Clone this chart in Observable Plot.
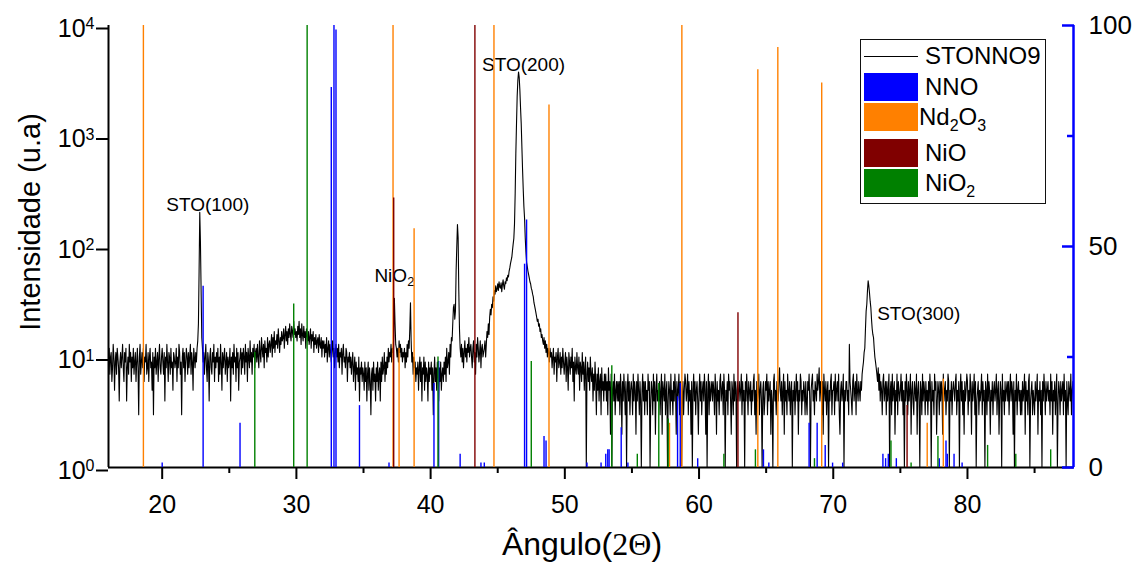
<!DOCTYPE html>
<html>
<head>
<meta charset="utf-8">
<script src="https://cdn.jsdelivr.net/npm/d3@7"></script>
<script src="https://cdn.jsdelivr.net/npm/@observablehq/plot@0.6"></script>
<style>
  body { margin: 0; background: #fff; font-family: "Liberation Sans", Arial, sans-serif; }
  #wrap { position: relative; width: 1137px; height: 563px; overflow: hidden; }
  #wrap svg { position: absolute; left: 0; top: 0; }
  #legend { position: absolute; left: 860px; top: 39px; width: 186px; height: 165px; box-sizing: border-box;
            border: 1.5px solid #111; background: #fff; font-size: 24px; line-height: 24px; color: #000; }
  #legend .sw { position: absolute; left: 3px; width: 54px; height: 28px; }
  #legend .ln { position: absolute; left: 3px; width: 54px; height: 0; border-top: 1.2px solid #000; }
  #legend .tx { position: absolute; left: 64px; white-space: nowrap; }
  #legend sub { font-size: 16px; vertical-align: -6px; line-height: 0; }
</style>
</head>
<body>
<div id="wrap"><div id="legend"></div></div>
<script>
// ---------- data ----------
const angleStart = 16.0;   // 2θ of first sample
const angleStep = 0.05;    // scan step
// STONNO9 measured counts, one row per degree (20 samples per degree)
const intensity = [
  9,12,7,10,11,6,8,13,10,5, 9,11,7,12,10,8,4,9,11,8,                 // 16
  10,13,8,6,11,9,12,4,8,10, 7,13,9,11,6,10,8,12,7,9,                 // 17
  11,6,9,12,8,3,10,13,7,9, 11,8,12,6,10,9,13,7,8,11,                 // 18
  6,10,12,8,9,5,11,3,10,8, 12,7,9,11,6,10,13,8,7,10,                 // 19
  12,9,7,11,4,10,8,13,9,6, 11,10,7,12,8,9,5,11,10,8,                 // 20
  9,12,6,10,8,13,11,7,9,3, 10,12,8,11,6,9,12,10,7,11,                // 21
  8,10,13,7,11,9,5,12,10,8, 11,9,12,14,20,60,204,110,40,15,          // 22
  12,9,11,7,10,13,8,6,11,9, 4,10,12,8,7,11,9,13,6,10,                // 23
  8,11,9,12,6,10,7,13,9,5, 11,8,10,12,7,9,11,6,10,8,                 // 24
  9,12,4,10,8,11,7,13,9,10, 6,12,8,11,5,9,10,12,7,11,                // 25
  8,12,10,7,13,9,11,6,12,10, 8,14,9,11,7,12,10,13,8,11,              // 26
  12,9,13,10,8,14,11,9,15,12, 10,13,8,14,11,12,9,15,10,13,           // 27
  14,11,13,16,10,15,12,17,11,14, 13,16,12,18,14,11,15,13,17,14,      // 28
  15,18,12,16,19,14,17,13,18,15, 20,16,14,19,17,15,21,16,18,15,      // 29
  17,14,19,16,21,15,18,13,20,16, 14,19,15,17,12,18,16,14,17,13,      // 30
  15,18,12,16,14,17,11,15,13,16, 12,14,15,11,16,13,12,15,10,14,      // 31
  12,14,10,13,11,15,9,12,14,10, 13,11,9,12,14,10,12,8,11,13,         // 32
  10,12,9,13,8,11,10,12,7,11, 13,9,10,8,12,11,6,10,9,11,             // 33
  8,10,7,9,11,6,8,10,5,9, 7,8,6,10,4,8,7,9,6,8,                      // 34
  7,5,9,6,8,4,7,9,5,8, 6,3,7,8,5,9,6,7,4,8,                          // 35
  6,9,5,7,8,4,9,6,10,7, 8,11,6,9,7,10,8,12,9,11,                     // 36
  10,13,9,12,11,15,34,20,13,12, 10,12,9,14,11,13,10,12,9,11,         // 37
  10,12,8,11,9,13,10,14,12,18, 31,14,9,11,7,10,8,9,6,8,              // 38
  7,9,5,8,10,6,9,4,8,7, 10,5,9,6,8,7,4,9,6,8,                        // 39
  7,9,5,8,3,7,10,6,8,5, 9,7,4,8,6,9,5,7,8,6,                         // 40
  9,7,10,6,12,8,9,11,7,13, 10,15,14,20,28,30,22,26,60,100,           // 41
  158,120,40,18,12,10,13,9,12,8, 11,14,10,12,9,13,11,15,10,12,       // 42
  13,10,8,12,14,9,11,7,13,10, 15,12,9,11,14,8,12,13,10,11,           // 43
  12,14,10,13,17,15,20,16,23,27, 24,30,28,35,32,40,37,44,39,41,      // 44
  46,40,48,43,42,47,39,45,50,44, 41,48,46,52,49,55,53,60,64,70,      // 45
  75,80,92,105,118,160,300,700,1300,2300, 3200,3800,3400,2600,1800,1300,800,500,330,230, // 46
  180,120,90,72,66,60,56,52,48,46, 42,40,37,35,31,29,27,25,23,21,    // 47
  22,19,20,17,18,15,16,14,13,15, 12,14,11,13,10,12,11,9,12,10,       // 48
  11,8,10,12,7,10,9,11,6,10, 12,8,9,11,7,10,8,12,9,7,                // 49
  9,11,6,10,8,5,11,9,7,10, 8,12,6,9,4,10,8,7,11,8,                   // 50
  7,10,5,9,8,6,11,7,9,5, 8,10,1,7,9,6,8,5,10,7,                      // 51
  6,8,4,7,5,9,6,3,7,5, 8,4,6,7,3,8,5,6,4,7,                          // 52
  5,7,4,6,3,8,5,6,2,7, 1,5,6,4,7,3,5,6,4,6,                          // 53
  4,6,3,7,5,2,6,4,7,5, 3,6,1,5,7,4,6,3,5,6,                          // 54
  5,3,7,4,6,5,2,6,4,7, 5,3,6,4,1,5,7,4,6,3,                          // 55
  6,4,5,3,7,5,6,1,4,6, 5,3,7,4,6,2,5,7,4,5,                          // 56
  4,6,3,5,7,2,6,5,4,7, 3,5,6,1,4,6,5,3,7,4,                          // 57
  5,3,6,4,7,5,2,6,4,5, 7,3,6,5,1,4,6,3,5,7,                          // 58
  6,4,5,7,3,6,4,5,2,6, 1,5,7,4,6,3,5,6,4,2,                          // 59
  5,7,4,6,3,5,6,4,7,5, 2,6,1,5,7,3,6,4,5,6,                          // 60
  4,6,5,3,7,5,2,6,4,5, 3,6,7,4,5,6,3,7,5,1,                          // 61
  5,4,6,3,7,5,6,4,2,6, 5,3,7,4,6,5,1,6,4,5,                          // 62
  6,4,5,7,3,6,4,5,1,6, 4,7,5,3,6,5,4,6,3,5,                          // 63
  4,6,7,3,5,2,6,4,5,7, 3,5,6,4,1,5,6,3,4,6,                          // 64
  5,7,3,6,4,5,6,2,5,4, 1,6,7,4,5,3,6,5,4,6,                          // 65
  8,5,4,6,3,5,7,2,6,4, 5,3,7,5,4,6,3,5,6,1,                          // 66
  5,4,6,3,5,7,4,6,2,5, 4,7,6,3,5,4,6,5,3,6,                          // 67
  4,3,6,5,7,4,1,5,6,7, 4,5,3,6,5,4,7,5,6,8,                          // 68
  4,6,5,3,6,2,7,5,4,6, 3,5,6,1,5,4,6,7,3,5,                          // 69
  5,6,3,7,4,5,6,4,7,3, 2,5,6,4,5,7,1,5,4,6,                          // 70
  6,4,5,3,13,6,5,4,3,6, 7,4,5,6,3,7,5,4,6,5,                         // 71
  4,6,5,7,8,9,11,12,18,26, 30,40,49,44,38,32,28,22,18,16,            // 72
  15,12,10,9,8,7,6,8,5,7, 4,6,5,3,6,7,4,5,6,3,                       // 73
  6,4,5,7,1,5,6,3,7,4, 5,6,2,5,4,7,3,6,5,4,                          // 74
  5,7,4,6,3,5,1,6,4,7, 5,3,6,4,5,7,2,5,6,4,                          // 75
  3,6,5,4,7,2,5,6,4,1, 6,5,3,7,4,6,5,3,6,4,                          // 76
  5,3,6,4,7,5,1,6,4,5, 3,7,5,6,2,4,6,5,3,6,                          // 77
  4,6,5,2,7,4,5,6,3,5, 4,7,6,1,5,4,6,3,5,6,                          // 78
  5,4,6,7,3,5,4,6,1,5, 7,4,6,3,5,2,6,4,5,7,                          // 79
  6,3,5,4,7,5,2,6,4,5, 7,3,6,1,4,5,6,3,5,4,                          // 80
  5,7,3,6,4,5,1,6,5,3, 7,4,6,5,2,5,4,6,3,5,                          // 81
  6,4,5,7,3,5,6,2,4,6, 5,1,7,4,5,3,6,4,5,6,                          // 82
  4,6,3,5,7,4,6,5,2,6, 1,5,4,7,3,5,6,4,5,3,                          // 83
  5,3,6,4,5,7,2,6,4,5, 3,6,7,1,4,5,6,3,5,4,                          // 84
  3,6,4,5,7,2,5,4,6,3, 5,1,6,4,7,5,3,6,4,5,                          // 85
  6,4,5,3,7,4,6,2,5,4, 6,3,5,7,1,4,6,5,3,6,                          // 86
  4,5,6,3,7,4,5,1,6,4, 3,6,5,4,7,3,5,6,4,5                           // 87
];

// reference patterns (relative intensity, right axis)
const nnoAngles = [20.0, 23.05, 25.8, 32.6, 32.8, 32.95, 34.7, 36.9, 40.25, 40.6, 42.2, 43.75, 44.0, 47.0, 47.15, 48.45, 48.6, 51.65, 52.7, 53.05, 53.2, 53.3, 54.2, 54.7, 58.4, 58.6, 59.9, 64.8, 65.2, 68.2, 68.8, 69.4, 69.95, 70.7, 73.7, 73.9, 74.1, 74.7, 77.9, 78.4, 78.5, 79.0, 79.6];
const nnoRel    = [1, 41, 10, 86, 100, 99, 14, 1, 19, 24, 3, 1, 1, 46, 56, 7, 6, 1, 1, 3, 4, 4, 9, 1, 16, 19, 2, 4, 1, 10, 10, 5, 1, 1, 3, 2, 3, 2, 2, 6, 3, 3, 1];
const nd2o3Angles = [18.6, 37.2, 37.65, 38.77, 44.72, 48.82, 57.8, 58.72, 64.38, 65.87, 69.14, 77.0, 78.2];
const nd2o3Rel    = [100, 100, 27, 54, 100, 82, 10, 100, 90, 95, 87, 10, 20];
const nioAngles = [37.25, 43.3, 62.9, 75.5];
const nioRel    = [61, 100, 35, 14];
const nio2Angles = [26.9, 29.8, 30.8, 40.55, 47.5, 53.5, 55.4, 57.0, 57.7, 61.85, 64.2, 68.6, 74.3, 75.8, 77.8, 81.5, 83.6, 86.2];
const nio2Rel    = [26, 37, 100, 25, 24, 23, 3, 19, 11, 3, 4, 2, 6, 1, 7, 5, 3, 4];

const seriesNames  = ["NNO", "Nd2O3", "NiO", "NiO2"];
const seriesColors = ["#0000ff", "#ff8000", "#800000", "#008000"];

// axis ticks
const xMajorTicks = [20, 30, 40, 50, 60, 70, 80];
const xMinorTicks = [25, 35, 45, 55, 65, 75, 85];
const yLeftTicks  = [1, 10, 100, 1000, 10000];
const yRightTicks = [0, 50, 100];
const yRightMinor = [25, 75];

// peak annotations
const peakNames  = ["STO(100)", "NiO2", "STO(200)", "STO(300)"];
const peakAngles = [22.8, 37.3, 46.55, 72.6];
const peakCounts = [204, 34, 3800, 49];

// ---------- build ----------
const W = 1137, H = 563;
const M = {top: 25, right: 64, bottom: 96, left: 108};
const xDomain = [16.0, 87.9];
const FONT = '"Liberation Sans", Arial, sans-serif';

const pattern = intensity.map((v, i) => ({angle: angleStart + i * angleStep, counts: v}));
const sticks = [
  nnoAngles.map((a, i) => ({angle: a, rel: nnoRel[i]})),
  nd2o3Angles.map((a, i) => ({angle: a, rel: nd2o3Rel[i]})),
  nioAngles.map((a, i) => ({angle: a, rel: nioRel[i]})),
  nio2Angles.map((a, i) => ({angle: a, rel: nio2Rel[i]}))
];
const peaks = peakNames.map((n, i) => ({name: n, angle: peakAngles[i], counts: peakCounts[i]}));
const labelStyle = [
  {dx: 8, dy: -1, textAnchor: "middle", lineAnchor: "bottom"},
  {dx: 0, dy: -16, textAnchor: "middle", lineAnchor: "bottom"},
  {dx: 5, dy: -1, textAnchor: "middle", lineAnchor: "bottom"},
  {dx: 9, dy: 33, textAnchor: "start", lineAnchor: "middle"}
];

const p1 = Plot.plot({
  width: W, height: H,
  marginTop: M.top, marginRight: M.right, marginBottom: M.bottom, marginLeft: M.left,
  style: {fontFamily: FONT, background: "#fff", color: "#000", overflow: "visible"},
  x: {domain: xDomain},
  y: {type: "log", domain: [1, 10000]},
  marks: [
    Plot.line(pattern, {x: "angle", y: "counts", stroke: "#000", strokeWidth: 1.1, clip: true}),
    Plot.ruleX([xDomain[0]], {stroke: "#000", strokeWidth: 2}),
    Plot.ruleY([1], {stroke: "#000", strokeWidth: 2}),
    Plot.axisX({ticks: xMajorTicks, tickSize: 12, tickPadding: 16, fontSize: 25, strokeWidth: 2, label: null}),
    Plot.axisX({ticks: xMinorTicks, tickSize: 6, tickFormat: () => "", strokeWidth: 2, label: null}),
    Plot.axisY({ticks: yLeftTicks, tickSize: 12, tickPadding: 2, fontSize: 25, strokeWidth: 2, label: null,
                dy: 3, tickFormat: d => String(Math.round(Math.log10(d)))}),
    ...peaks.map((p, i) => Plot.text([p], {x: "angle", y: "counts", text: "name", fontSize: 19, fill: "#000",
                fontFamily: FONT, ...labelStyle[i]}))
  ]
});

const p2 = Plot.plot({
  width: W, height: H,
  marginTop: M.top, marginRight: M.right, marginBottom: M.bottom, marginLeft: M.left,
  style: {fontFamily: FONT, background: "transparent", color: "#000", overflow: "visible"},
  x: {domain: xDomain, axis: null},
  y: {domain: [0, 100]},
  marks: [
    ...sticks.map((s, k) => Plot.ruleX(s, {x: "angle", y1: 0, y2: "rel", stroke: seriesColors[k], strokeWidth: 1.4})),
    Plot.ruleX([xDomain[1]], {stroke: "#0000ff", strokeWidth: 2.5}),
    Plot.axisY({anchor: "right", ticks: yRightTicks, tickSize: 12, dx: -12, tickFormat: () => "",
                stroke: "#0000ff", strokeWidth: 2.5, label: null}),
    Plot.axisY({anchor: "right", ticks: yRightMinor, tickSize: 7, dx: -7, tickFormat: () => "",
                stroke: "#0000ff", strokeWidth: 2.5, label: null}),
    Plot.axisY({anchor: "right", ticks: yRightTicks, tickSize: 0, tickPadding: 15, fontSize: 26, label: null})
  ]
});

const wrap = document.getElementById("wrap");
wrap.insertBefore(p1, wrap.firstChild);
wrap.insertBefore(p2, document.getElementById("legend"));

// superscript exponents on log axis
d3.select(p1).selectAll('g[aria-label="y-axis tick label"] text').each(function () {
  const exp = this.textContent;
  const t = d3.select(this);
  t.text(null);
  t.append("tspan").text("10");
  t.append("tspan").attr("dy", "-0.45em").attr("font-size", 16).text(exp);
});
// subscript in NiO2 annotation
d3.select(p1).selectAll("text").each(function () {
  if (this.textContent === "NiO2") {
    const t = d3.select(this);
    t.text(null);
    t.append("tspan").text("NiO");
    t.append("tspan").attr("dy", "0.3em").attr("font-size", 13).text("2");
  }
});

// axis titles
const s1 = d3.select(p1);
s1.append("text")
  .attr("transform", "translate(40,222) rotate(-90)")
  .attr("text-anchor", "middle").attr("font-size", 29).attr("font-family", FONT).attr("fill", "#000")
  .text("Intensidade (u.a)");
const xt = s1.append("text")
  .attr("x", 582).attr("y", 555)
  .attr("text-anchor", "middle").attr("font-size", 32).attr("font-family", FONT).attr("fill", "#000");
xt.append("tspan").text("Ângulo(");
xt.append("tspan").attr("font-family", '"Liberation Serif", "Times New Roman", serif').text("2Θ");
xt.append("tspan").text(")");

// legend
const legend = document.getElementById("legend");
const rows = [
  {type: "line", name: "STONNO9", top: 16},
  {type: "box", name: "NNO", top: 33, color: seriesColors[0], tx: 47},
  {type: "box", name: "Nd<sub>2</sub>O<sub>3</sub>", top: 63, color: seriesColors[1], tx: 77, left: 58},
  {type: "box", name: "NiO", top: 99, color: seriesColors[2], tx: 113},
  {type: "box", name: "NiO<sub>2</sub>", top: 129, color: seriesColors[3], tx: 143}
];
rows.forEach(r => {
  if (r.type === "line") {
    const l = document.createElement("div"); l.className = "ln"; l.style.top = r.top + "px"; legend.appendChild(l);
    const t = document.createElement("div"); t.className = "tx"; t.style.top = (r.top - 12) + "px"; t.innerHTML = r.name; legend.appendChild(t);
  } else {
    const b = document.createElement("div"); b.className = "sw"; b.style.top = r.top + "px"; b.style.background = r.color; legend.appendChild(b);
    const t = document.createElement("div"); t.className = "tx"; t.style.top = (r.tx - 12) + "px";
    if (r.left) t.style.left = r.left + "px";
    t.innerHTML = r.name; legend.appendChild(t);
  }
});
</script>
</body>
</html>
